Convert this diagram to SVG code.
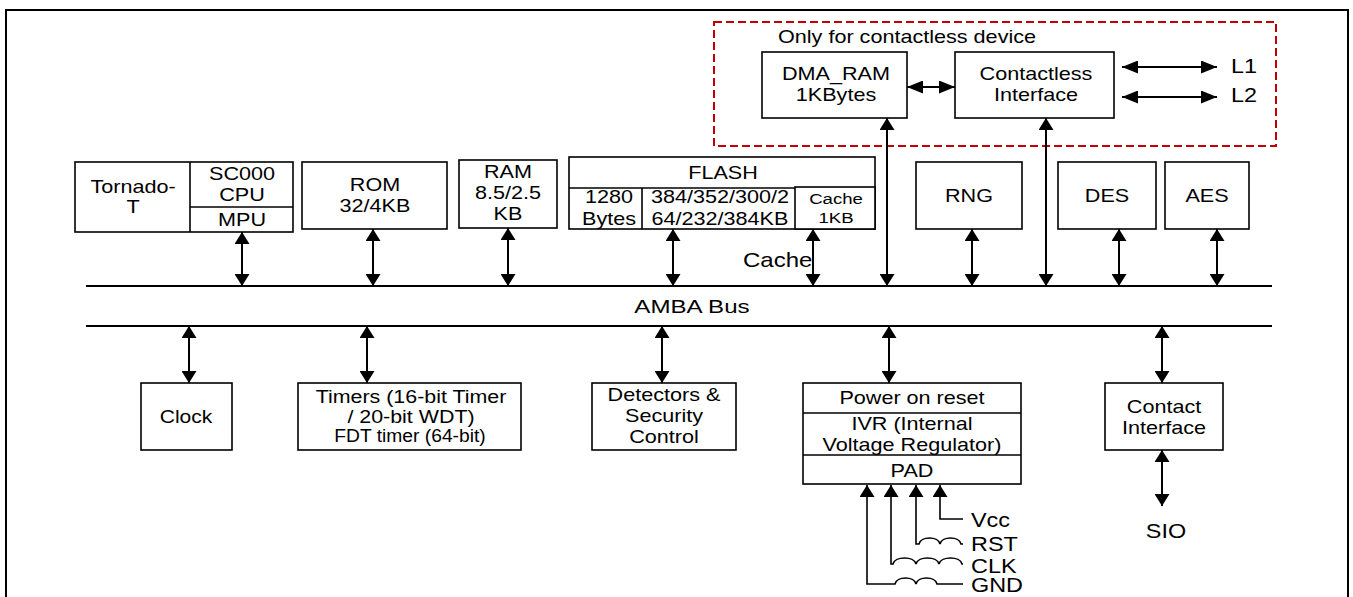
<svg xmlns="http://www.w3.org/2000/svg" width="1353" height="597" viewBox="0 0 1353 597">
<style>
.bx{fill:#fff;stroke:#000;stroke-width:1.6}
.dv{fill:none;stroke:#000;stroke-width:1.6}
.ln{fill:none;stroke:#000;stroke-width:2}
.ar{fill:none;stroke:#000;stroke-width:2;marker-start:url(#av);marker-end:url(#av)}
.ah{fill:none;stroke:#000;stroke-width:2;marker-start:url(#hv);marker-end:url(#hv)}
.up{fill:none;stroke:#000;stroke-width:1.6;marker-start:url(#av)}
text{font-family:"Liberation Sans",Arial,Helvetica,sans-serif;font-size:18px;fill:#000;text-anchor:middle}
.s{text-anchor:start}
.sm{font-size:15.5px}
.lg{font-size:19.5px}
</style>
<defs>
<marker id="av" viewBox="0 0 12 15" refX="12" refY="7.5" markerWidth="12" markerHeight="15" markerUnits="userSpaceOnUse" orient="auto-start-reverse"><path d="M0,0 L12,7.5 L0,15 z" fill="#000"/></marker>
<marker id="hv" viewBox="0 0 16 13" refX="16" refY="6.5" markerWidth="16" markerHeight="13" markerUnits="userSpaceOnUse" orient="auto-start-reverse"><path d="M0,0 L16,6.5 L0,13 z" fill="#000"/></marker>
</defs>
<rect x="0" y="0" width="1353" height="597" fill="#fff"/>
<rect id="frame" x="6" y="10" width="1342" height="600" fill="none" stroke="#000" stroke-width="2"/>

<g id="contactless-area">
<rect x="714" y="22" width="562" height="124" fill="none" stroke="#C00000" stroke-width="2" stroke-dasharray="8,4"/>
<text class="s" transform="translate(778,43) scale(1.2,1)">Only for contactless device</text>
</g>

<g id="buses">
<line class="ln" x1="86" y1="286" x2="1272" y2="286"/>
<line class="ln" x1="86" y1="326" x2="1272" y2="326"/>
<text style="font-size:19px" transform="translate(692,313) scale(1.27,1)">AMBA Bus</text>
</g>

<g id="cpu">
<rect class="bx" x="75" y="162" width="218" height="70"/>
<line class="dv" x1="190" y1="162" x2="190" y2="232"/>
<line class="dv" x1="190" y1="207" x2="293" y2="207"/>
<text transform="translate(133,193) scale(1.2,1)">Tornado-<tspan x="0" dy="20">T</tspan></text>
<text transform="translate(242,180) scale(1.2,1)">SC000<tspan x="0" dy="21">CPU</tspan></text>
<text transform="translate(242,226) scale(1.2,1)">MPU</text>
</g>

<g id="rom">
<rect class="bx" x="302" y="162" width="145" height="67"/>
<text transform="translate(375,191) scale(1.2,1)">ROM<tspan x="0" dy="21">32/4KB</tspan></text>
</g>

<g id="ram">
<rect class="bx" x="459" y="160" width="98" height="68"/>
<text transform="translate(508,178) scale(1.2,1)">RAM<tspan x="0" dy="21">8.5/2.5</tspan><tspan x="0" dy="21">KB</tspan></text>
</g>

<g id="flash">
<rect class="bx" x="569" y="157" width="306" height="72"/>
<line class="dv" x1="569" y1="188" x2="875" y2="188"/>
<line class="dv" x1="642" y1="188" x2="642" y2="229"/>
<rect class="bx" x="795" y="187" width="80" height="42"/>
<text transform="translate(723,179) scale(1.2,1)">FLASH</text>
<text transform="translate(609,203) scale(1.2,1)">1280<tspan x="0" dy="22">Bytes</tspan></text>
<text transform="translate(720,203) scale(1.2,1)">384/352/300/2<tspan x="0" dy="22">64/232/384KB</tspan></text>
<text class="sm" transform="translate(836,204) scale(1.2,1)">Cache<tspan x="0" dy="19">1KB</tspan></text>
</g>

<g id="cache-label">
<text class="s" style="font-size:20px" transform="translate(743,267) scale(1.2,1)">Cache</text>
</g>

<g id="dma-ram">
<rect class="bx" x="762" y="52" width="145" height="66"/>
<text transform="translate(836,80) scale(1.2,1)">DMA_RAM<tspan x="0" dy="21">1KBytes</tspan></text>
</g>

<g id="contactless-interface">
<rect class="bx" x="955" y="52" width="159" height="66"/>
<text transform="translate(1036,80) scale(1.2,1)">Contactless<tspan x="0" dy="21">Interface</tspan></text>
</g>

<g id="l1"><text class="s lg" transform="translate(1231,73) scale(1.2,1)">L1</text></g>
<g id="l2"><text class="s lg" transform="translate(1231,102) scale(1.2,1)">L2</text></g>

<g id="rng">
<rect class="bx" x="916" y="162" width="106" height="67"/>
<text transform="translate(969,202) scale(1.2,1)">RNG</text>
</g>
<g id="des">
<rect class="bx" x="1058" y="162" width="98" height="67"/>
<text transform="translate(1107,202) scale(1.2,1)">DES</text>
</g>
<g id="aes">
<rect class="bx" x="1165" y="162" width="84" height="67"/>
<text transform="translate(1207,202) scale(1.2,1)">AES</text>
</g>

<g id="clock">
<rect class="bx" x="141" y="383" width="91" height="67"/>
<text transform="translate(186,423) scale(1.17,1)">Clock</text>
</g>

<g id="timers">
<rect class="bx" x="298" y="383" width="223" height="67"/>
<text transform="translate(411,403) scale(1.19,1)">Timers (16-bit Timer<tspan x="0" dy="20">/ 20-bit WDT)</tspan></text>
<text transform="translate(410,442) scale(1.07,1)">FDT timer (64-bit)</text>
</g>

<g id="detectors">
<rect class="bx" x="592" y="383" width="144" height="67"/>
<text transform="translate(664,401) scale(1.2,1)">Detectors &amp;<tspan x="0" dy="21">Security</tspan><tspan x="0" dy="21">Control</tspan></text>
</g>

<g id="power">
<rect class="bx" x="803" y="383" width="218" height="101"/>
<line class="dv" x1="803" y1="413" x2="1021" y2="413"/>
<line class="dv" x1="803" y1="455" x2="1021" y2="455"/>
<text transform="translate(912,404) scale(1.2,1)">Power on reset</text>
<text transform="translate(912,430) scale(1.2,1)">IVR (Internal<tspan x="0" dy="21">Voltage Regulator)</tspan></text>
<text transform="translate(912,477) scale(1.2,1)">PAD</text>
</g>

<g id="contact-interface">
<rect class="bx" x="1105" y="383" width="118" height="67"/>
<text transform="translate(1164,413) scale(1.2,1)">Contact<tspan x="0" dy="21">Interface</tspan></text>
</g>

<g id="sio"><text class="lg" transform="translate(1166,538) scale(1.2,1)">SIO</text></g>

<g id="pins">
<text class="s lg" transform="translate(971,527) scale(1.2,1)">Vcc</text>
<text class="s lg" transform="translate(971,551) scale(1.2,1)">RST</text>
<text class="s lg" transform="translate(971,573) scale(1.2,1)">CLK</text>
<text class="s lg" transform="translate(971,592) scale(1.2,1)">GND</text>
</g>

<g id="connectors">
<path class="ar" d="M242,232 V286"/>
<path class="ar" d="M373,229 V286"/>
<path class="ar" d="M508,228 V286"/>
<path class="ar" d="M673,229 V286"/>
<path class="ar" d="M813,229 V286"/>
<path class="ar" d="M887,118 V286"/>
<path class="ar" d="M972,229 V286"/>
<path class="ar" d="M1046,118 V286"/>
<path class="ar" d="M1119,229 V286"/>
<path class="ar" d="M1217,229 V286"/>
<path class="ar" d="M189,326 V383"/>
<path class="ar" d="M367,326 V383"/>
<path class="ar" d="M662,326 V383"/>
<path class="ar" d="M889,326 V383"/>
<path class="ar" d="M1162,326 V383"/>
<path class="ar" d="M1162,450 V506"/>
<path class="ah" d="M907,87 H955"/>
<path class="ah" d="M1122,67 H1217"/>
<path class="ah" d="M1122,97 H1217"/>
<path class="up" d="M940,485 V519 H963"/>
<path class="up" d="M916,485 V544 H919 c2,-8 19,-8 21,0 c2,-8 19,-8 21,0 H963"/>
<path class="up" d="M891,485 V564 H893 c2,-8 21,-8 23,0 c2,-8 21,-8 23,0 c2,-8 21,-8 23,0 H963"/>
<path class="up" d="M867,485 V584 H895 c2,-8 19,-8 21,0 c2,-8 19,-8 21,0 H963"/>
</g>
</svg>
